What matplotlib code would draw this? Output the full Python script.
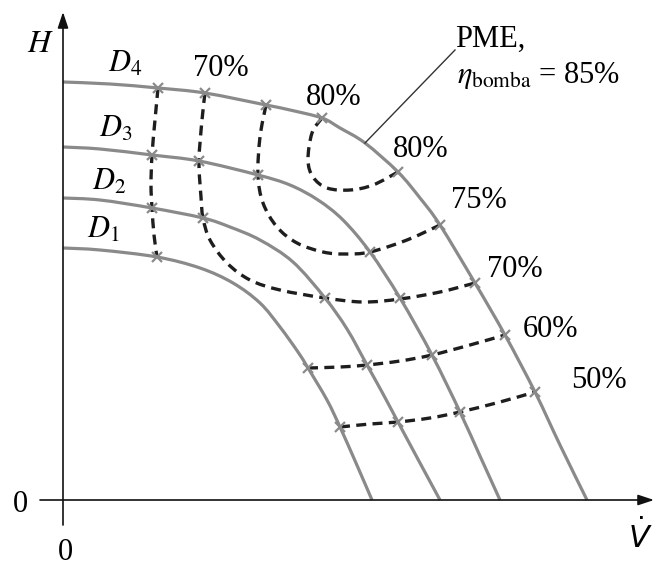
import numpy as np
import matplotlib.pyplot as plt
from matplotlib.path import Path
from matplotlib.patches import PathPatch

plt.rcParams['font.family'] = ['Liberation Serif', 'DejaVu Serif']
plt.rcParams['mathtext.fontset'] = 'stix'

# curvas da bomba (diametros do rotor D1..D4), V (vazao) e H (altura)
d1_v = [0, 37, 94, 137, 170, 197, 217, 235, 245, 264, 277, 293, 309]
d1_h = [252, 250, 243, 232, 217, 197, 173, 148, 132, 100, 73, 37, 0]
d2_v = [0, 37, 89, 140, 167, 197, 230, 262, 284, 304, 319, 335, 357, 377]
d2_h = [302, 300, 292, 282, 273, 260, 238, 202, 171, 135, 108, 78, 37, 0]
d3_v = [0, 37, 89, 136, 195, 227, 255, 280, 307, 337, 369, 397, 417, 437]
d3_h = [353, 351, 345, 339, 325, 315, 300, 280, 248, 202, 145, 88, 44, 0]
d4_v = [0, 47, 95, 142, 203, 227, 259, 277, 302, 335, 357, 377, 412, 442, 472, 497, 524]
d4_h = [418, 416, 412, 407, 395, 390, 382, 372, 357, 328, 302, 275, 217, 165, 108, 55, 0]

# curvas de rendimento (tracejadas)
eta_left_v = [95, 92, 89, 88, 89, 91, 94]
eta_left_h = [412, 380, 345, 315, 292, 265, 243]
eta70_v = [142, 139, 136, 138, 140, 147, 164, 187, 217, 262, 300, 337, 377, 412]
eta70_h = [407, 380, 339, 303, 282, 260, 237, 220, 210, 202, 198, 201, 208, 217]
eta75_v = [203, 197, 195, 200, 214, 234, 260, 282, 307, 344, 377]
eta75_h = [395, 363, 325, 297, 273, 257, 248, 246, 248, 260, 275]
eta80_v = [259, 249, 245, 250, 264, 287, 310, 335]
eta80_h = [382, 367, 340, 323, 312, 310, 315, 328]
eta60_v = [245, 277, 304, 337, 369, 407, 442]
eta60_h = [132, 133, 135, 139, 145, 155, 165]
eta50_v = [277, 307, 335, 367, 397, 437, 472]
eta50_h = [73, 76, 78, 82, 88, 98, 108]

# pontos de intersecao (x)
cross_v = [95, 142, 203, 259, 335, 377, 412, 442, 472,
           89, 136, 195, 307, 337, 369, 397,
           89, 140, 262, 304, 335,
           94, 245, 277]
cross_h = [412, 407, 395, 382, 328, 275, 217, 165, 108,
           345, 339, 325, 248, 202, 145, 88,
           292, 282, 202, 135, 78,
           243, 132, 73]


def smooth_path(v, h):
	# caminho bezier (catmull-rom) que passa por todos os pontos
	p = np.column_stack([v, h]).astype(float)
	q = np.vstack([p[0], p, p[-1]])
	verts = [p[0]]
	codes = [Path.MOVETO]
	for i in range(1, len(q) - 2):
		c1 = q[i] + (q[i + 1] - q[i - 1]) / 6
		c2 = q[i + 1] - (q[i + 2] - q[i]) / 6
		verts += [c1, c2, q[i + 1]]
		codes += [Path.CURVE4] * 3
	return Path(verts, codes)


fig = plt.figure(figsize=(6.54, 5.66), dpi=100)
ax = fig.add_axes([0, 0, 1, 1])
ax.set_xlim(-63, 591)
ax.set_ylim(-66, 500)
ax.axis('off')

gray = '#8a8a8a'
for v, h in [(d1_v, d1_h), (d2_v, d2_h), (d3_v, d3_h), (d4_v, d4_h)]:
	ax.add_patch(PathPatch(smooth_path(v, h), fc='none', ec=gray, lw=2.3, capstyle='butt', zorder=2))

for v, h in [(eta_left_v, eta_left_h), (eta70_v, eta70_h), (eta75_v, eta75_h),
             (eta80_v, eta80_h), (eta60_v, eta60_h), (eta50_v, eta50_h)]:
	ax.add_patch(PathPatch(smooth_path(v, h), fc='none', ec='#1e1e1e', lw=2.4,
	                       ls=(0, (3.0, 1.9)), capstyle='butt', zorder=3))

ax.plot(cross_v, cross_h, ls='none', marker='x', ms=7, mew=1.6, color=gray, zorder=4)

# eixos
arrow = dict(arrowstyle='-|>,head_length=0.6,head_width=0.2', lw=1.2, color='#111111',
             mutation_scale=16, shrinkA=0, shrinkB=0)
ax.annotate('', xy=(591, 0), xytext=(-23, 0), arrowprops=arrow)
ax.annotate('', xy=(0, 488), xytext=(0, -25), arrowprops=arrow)

# linha do PME
ax.plot([302, 392], [357, 450], color='#333333', lw=1.0)

fs = 22
ax.text(-23, 456, r'$H$', fontsize=23, ha='center', va='center')
ax.text(-43, -5, '0', fontsize=fs, ha='center', va='center')
ax.text(2, -52, '0', fontsize=fs, ha='center', va='center')
ax.text(577, -37, r'$\dot{V}$', fontsize=fs, ha='center', va='center', math_fontfamily='dejavusans')

ax.text(45, 428, r'$D_4$', fontsize=fs, ha='left', va='baseline')
ax.text(36, 363, r'$D_3$', fontsize=fs, ha='left', va='baseline')
ax.text(29, 310, r'$D_2$', fontsize=fs, ha='left', va='baseline')
ax.text(24, 262, r'$D_1$', fontsize=fs, ha='left', va='baseline')

labels = ['70%', '80%', '80%', '75%', '70%', '60%', '50%']
lab_v = [158, 271, 358, 416, 452, 488, 536]
lab_h = [424, 395, 343, 292, 223, 163, 112]
for t, v, h in zip(labels, lab_v, lab_h):
	ax.text(v, h, t, fontsize=fs, ha='center', va='baseline')

ax.text(392, 453, 'PME,', fontsize=fs, ha='left', va='baseline')
ax.text(394, 417, r'$\eta_{\mathrm{bomba}}$ = 85%', fontsize=fs, ha='left', va='baseline')

fig.savefig('out.png', dpi=100)
